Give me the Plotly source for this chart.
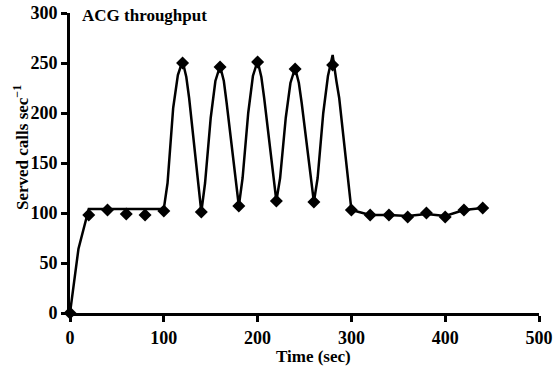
import plotly.graph_objects as go

# Diamond markers (measured samples)
marker_t = [0, 20, 40, 60, 80, 100, 120, 140, 160, 180, 200, 220, 240, 260, 280,
            300, 320, 340, 360, 380, 400, 420, 440]
marker_v = [0, 98, 103, 99, 98, 102, 250, 101, 246, 107, 251, 112, 244, 111, 248,
            103, 98, 98, 96, 100, 96, 103, 105]

# Connecting (smoothed) curve
line_t = [0, 9, 20, 100,
          104, 110, 115, 120, 124, 127, 140,
          144, 150, 155, 160, 164, 167, 180,
          184, 190, 195, 200, 204, 207, 220,
          224, 230, 235, 240, 244, 247, 260,
          264, 270, 275, 280, 284, 287, 300,
          320, 340, 360, 380, 400, 420, 440]
line_v = [0, 64, 104, 104,
          130, 205, 238, 252, 236, 215, 101,
          130, 195, 232, 247, 232, 210, 107,
          135, 200, 237, 252, 236, 215, 112,
          135, 195, 230, 245, 230, 210, 111,
          135, 200, 237, 258, 232, 215, 103,
          98, 98, 97, 99, 97, 103, 105]

x_ticks = [0, 100, 200, 300, 400, 500]
y_ticks = [0, 50, 100, 150, 200, 250, 300]

TITLE = "ACG throughput"
X_TITLE = "Time (sec)"
Y_TITLE = "Served calls sec<sup>−1</sup>"

FONT = "Liberation Serif, Times New Roman, serif"

fig = go.Figure()
fig.add_trace(go.Scatter(x=line_t, y=line_v, mode="lines",
                         line=dict(color="black", width=2.5),
                         hoverinfo="skip", showlegend=False))
fig.add_trace(go.Scatter(x=marker_t, y=marker_v, mode="markers",
                         marker=dict(symbol="diamond", size=10, color="black"),
                         cliponaxis=False, showlegend=False))

fig.update_layout(
    width=556, height=372,
    margin=dict(l=70, r=17, t=13, b=59, autoexpand=False),
    paper_bgcolor="white", plot_bgcolor="white",
    font=dict(family=FONT, color="black", size=17),
    annotations=[
        dict(text=f"<b>{TITLE}</b>", x=0.022, y=1.0, yshift=-2,
             xref="paper", yref="paper", xanchor="left", yanchor="middle",
             showarrow=False, font=dict(family=FONT, size=17)),
        dict(text=f"<b>{X_TITLE}</b>", x=0.52, y=0, yshift=-43,
             xref="paper", yref="paper", xanchor="center", yanchor="middle",
             showarrow=False, font=dict(family=FONT, size=17)),
        dict(text=f"<b>{Y_TITLE}</b>", x=0, xshift=-49, y=0.55, textangle=-90,
             xref="paper", yref="paper", xanchor="center", yanchor="middle",
             showarrow=False, font=dict(family=FONT, size=17)),
    ],
)
fig.update_xaxes(range=[0, 500], tickvals=x_ticks,
                 ticktext=[f"<b>{v}</b>" for v in x_ticks], automargin=False,
                 ticklabeloverflow="allow",
                 showgrid=False, zeroline=False, showline=True, linecolor="black",
                 linewidth=3, ticks="outside", ticklen=6, tickwidth=3, tickcolor="black",
                 tickfont=dict(family=FONT, size=18))
fig.update_yaxes(range=[0, 300], tickvals=y_ticks,
                 ticktext=[f"<b>{v}</b>" for v in y_ticks], automargin=False,
                 ticklabeloverflow="allow",
                 showgrid=False, zeroline=False, showline=True, linecolor="black",
                 linewidth=3, ticks="outside", ticklen=6, tickwidth=3, tickcolor="black",
                 tickfont=dict(family=FONT, size=18))

fig.write_html("out.html", config={"displayModeBar": False},
               post_script="document.body.style.margin='0';")
